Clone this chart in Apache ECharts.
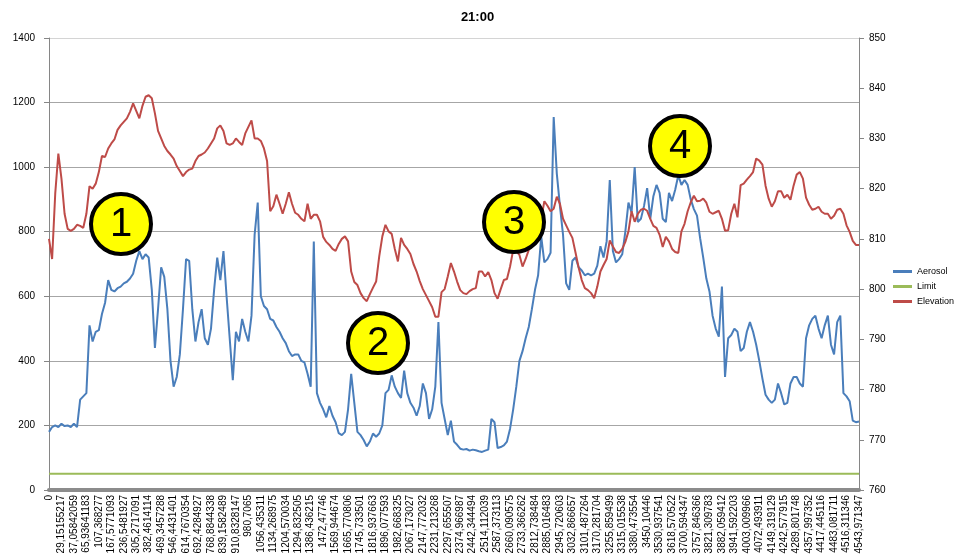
<!DOCTYPE html>
<html>
<head>
<meta charset="utf-8">
<script src="https://cdn.jsdelivr.net/npm/echarts@6/dist/echarts.min.js"></script>
<style>html,body{margin:0;padding:0;background:#fff}#c{width:955px;height:558px}</style>
</head>
<body>
<div id="c"></div>
<script>
const tickLabels = ["0","29,15155217","37,05842059","65,93641183","107,368277","167,5771093","236,5481927","305,2717091","382,4614114","469,3457288","546,4431401","614,7670354","692,4284927","768,8844338","839,1582489","910,8328147","980,7065","1056,435311","1134,268975","1204,570034","1294,832505","1386,436215","1472,47746","1569,944674","1665,770806","1745,733501","1816,937663","1896,077593","1982,668325","2067,173027","2147,772032","2231,213268","2297,655507","2374,966987","2442,344494","2514,112039","2587,373113","2660,090575","2733,366262","2812,738484","2885,016483","2945,720603","3032,866657","3101,487264","3170,281704","3255,859499","3315,015538","3380,473554","3450,10446","3530,937541","3618,570522","3700,594347","3757,846366","3821,309783","3882,059412","3941,592203","4003,009966","4072,493911","4149,319129","4242,577915","4289,801748","4357,997352","4417,445116","4483,081711","4516,311346","4543,971347"];

const aerosol = [
180,195,200,195,205,198,200,195,205,195,
280,290,300,510,460,490,495,545,580,650,
620,615,625,630,640,645,655,670,710,740,
715,730,720,620,440,560,690,660,560,400,
320,350,420,560,
715,710,560,460,520,560,
470,450,500,620,720,650,740,600,470,340,
490,460,530,490,460,540,790,890,600,570,
560,530,525,505,490,470,455,430,415,420,
420,400,395,360,320,770,300,270,
250,225,
260,230,210,176,170,180,250,360,270,180,
170,155,135,150,175,165,175,200,300,310,
355,320,300,285,370,300,270,255,230,260,
330,300,220,250,320,520,270,220,170,215,
150,140,128,125,127,122,125,123,120,118,
122,125,220,210,130,133,138,150,190,250,
320,400,430,470,505,560,620,665,785,705,
715,735,1155,980,880,790,640,620,710,720,
690,680,665,670,665,670,695,755,720,770,
960,740,705,715,730,800,890,860,1000,830,
840,880,935,840,910,945,920,840,830,920,
895,930,975,945,960,945,900,870,850,780,
720,655,615,540,500,475,630,350,470,480,
500,490,430,440,490,520,490,450,400,345,
295,280,270,280,330,300,265,270,330,350,
350,330,320,470,510,530,540,500,470,510,
540,450,420,520,540,300,290,275,215,210,212
];

const elevation = [
810,806,819,827,822,815,812,811.6,812,812.8,
812.6,812.2,815,820.5,820,821,823.3,826.5,826.3,828,
829,829.8,831.7,832.6,833.3,834,835.3,837,835.5,834,
836.5,838.3,838.6,838,835,831.5,830,828.5,827.5,826.8,
826,824.5,823.5,822.5,
823.3,823.8,824,825.5,826.5,826.8,
827.2,828,829,830,832,832.6,831.5,829,828.7,829,
830,829.3,828.7,831,832.3,833.6,830,830,829.5,828,
825.5,815.5,816.5,818.8,817,815,817,819.3,817,815.2,
814.8,814,813.5,817,814,814.8,814.8,813.5,
810.4,809.4,
808.8,808,807.6,809,810,810.5,809.5,803.5,801.4,800.8,
799.2,798.2,797.6,799,800.3,801.5,806.5,810.5,812.8,811.5,
811,808,805.5,810.2,808.8,808,807,805,803.5,801.6,
800,798.8,797.6,796.4,794.5,794.5,799.4,800,802.5,805.2,
803.5,801.5,799.8,799.2,799,799.6,800,800.2,803.5,803.5,
802.5,803.4,801.8,799.2,798.1,800,801.8,802,804.5,807.8,
807.5,806.8,804.5,806,807.8,808.7,809.4,812,814,817.5,
816.6,815.5,816,818.4,817,814,812.7,811.4,810.2,807.3,
804.3,801.8,800.2,799.8,799.2,798.2,800.5,803.5,804.8,806,
809.7,808.5,807.4,807.2,808,809.4,811.5,815.5,813.4,815,
815.8,816,815.6,814,812.6,812.2,810.8,808.4,810.4,809.5,
808,807.4,807.2,811.5,813,815.5,817.3,818.6,817.5,817.6,
818,817.2,815.4,815,815.3,815.6,814,811.6,811.7,815,
817,814.3,820.7,821,821.8,822.5,823.3,826,825.6,824.8,
820.6,818,816.4,817.5,819.5,819.5,818.2,818.8,817.8,820.6,
822.8,823.3,822,818.2,816.8,815.8,816,816.4,815.4,815,
815,814,814.6,815.8,816,815,812.7,811.4,809.6,808.8,808.8
];

const limitValue = 50;
const labelStep = 4;
const annotations = [
  {label: '1', x: 121, y: 224},
  {label: '2', x: 378, y: 343},
  {label: '3', x: 514, y: 222},
  {label: '4', x: 680, y: 146}
];

const N = aerosol.length;
const categories = [];
for (let i = 0; i < N; i++) {
  categories.push(i % labelStep === 0 ? (tickLabels[i / labelStep] || '') : '');
}

const FONT = 'Liberation Sans, Arial, sans-serif';
const graphics = [];
annotations.forEach(a => {
  graphics.push({type: 'circle', z: 100, shape: {cx: a.x, cy: a.y, r: 30},
    style: {fill: '#ffff00', stroke: '#000', lineWidth: 4}});
  graphics.push({type: 'text', z: 101, x: a.x, y: a.y + 1,
    style: {text: a.label, fill: '#000', fontSize: 40, fontFamily: FONT,
      align: 'center', verticalAlign: 'middle', textAlign: 'center', textVerticalAlign: 'middle'}});
});

const chart = echarts.init(document.getElementById('c'), null, {renderer: 'canvas'});
chart.setOption({
  animation: false,
  backgroundColor: '#fff',
  textStyle: {fontFamily: FONT},
  title: {text: '21:00', left: 'center', top: 6,
    textStyle: {fontSize: 13, fontWeight: 'bold', color: '#000', fontFamily: FONT}},
  grid: {left: 49, right: 96, top: 38, bottom: 68},
  legend: {orient: 'vertical', left: 893, top: 267, padding: 0, itemWidth: 19, itemHeight: 3, itemGap: 6,
    icon: 'rect', textStyle: {fontSize: 9, color: '#000', fontFamily: FONT},
    data: ['Aerosol', 'Limit', 'Elevation']},
  xAxis: {
    type: 'category', boundaryGap: false, data: categories,
    axisLine: {lineStyle: {color: '#8c8c8c', width: 4}},
    axisTick: {show: false},
    axisLabel: {interval: labelStep - 1, rotate: 90, fontSize: 10, margin: 5, color: '#000', fontFamily: FONT},
    splitLine: {show: false}
  },
  yAxis: [
    {type: 'value', min: 0, max: 1400, interval: 200,
      axisLine: {show: true, lineStyle: {color: '#868686'}},
      axisTick: {show: true, length: 5, lineStyle: {color: '#868686'}},
      axisLabel: {fontSize: 10, color: '#000', margin: 14, fontFamily: FONT, formatter: v => String(v)},
      splitLine: {show: true, lineStyle: {color: ['#a6a6a6','#a6a6a6','#a6a6a6','#a6a6a6','#a6a6a6','#a6a6a6','#a6a6a6','#d4d4d4'], width: 1}}},
    {type: 'value', min: 760, max: 850, interval: 10, position: 'right',
      axisLine: {show: true, lineStyle: {color: '#868686'}},
      axisTick: {show: true, length: 5, lineStyle: {color: '#868686'}},
      axisLabel: {fontSize: 10, color: '#000', margin: 10, fontFamily: FONT, formatter: v => String(v)},
      splitLine: {show: false}}
  ],
  series: [
    {name: 'Aerosol', type: 'line', data: aerosol, yAxisIndex: 0, showSymbol: false, symbol: 'none',
      color: '#4a7ebb', lineStyle: {width: 2, color: '#4a7ebb'}},
    {name: 'Limit', type: 'line', data: [[0, limitValue], [N - 1, limitValue]], yAxisIndex: 0,
      showSymbol: false, symbol: 'none', color: '#9bbb59', lineStyle: {width: 2, color: '#9bbb59'}},
    {name: 'Elevation', type: 'line', data: elevation, yAxisIndex: 1, showSymbol: false, symbol: 'none',
      color: '#be4b48', lineStyle: {width: 2, color: '#be4b48'}}
  ],
  graphic: graphics
});
</script>
</body>
</html>
